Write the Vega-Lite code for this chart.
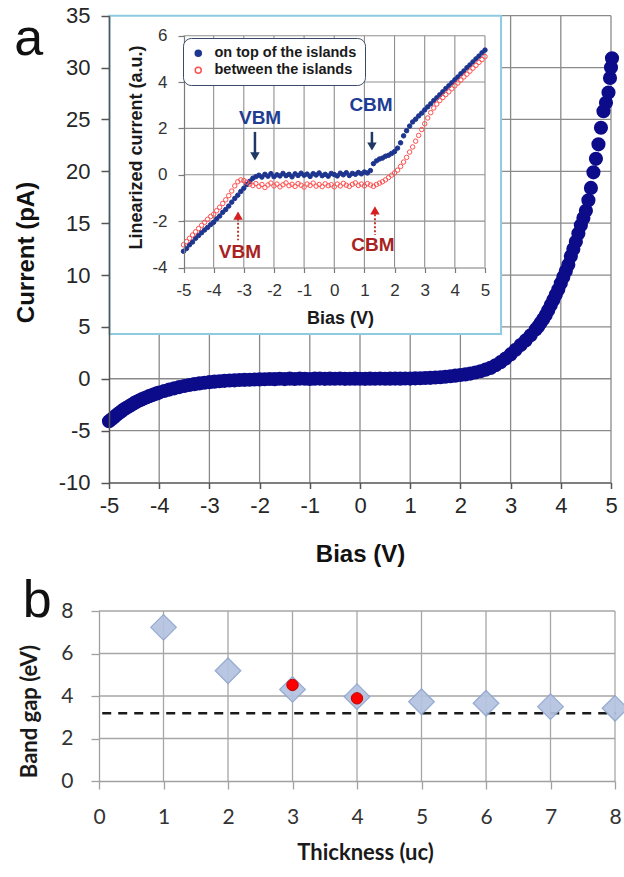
{
  "$schema": "https://vega.github.io/schema/vega-lite/v6.json",
  "width": 624,
  "height": 877,
  "autosize": {"type": "none"},
  "padding": 0,
  "background": "white",
  "config": {"view": {"stroke": null}, "font": "Liberation Sans"},
  "datasets": {
    "main": [
      {"v":-5.0,"c":-4.1},{"v":-4.95,"c":-3.9},{"v":-4.9,"c":-3.7},{"v":-4.85,"c":-3.5},{"v":-4.8,"c":-3.3},{"v":-4.75,"c":-3.12},{"v":-4.7,"c":-2.95},{"v":-4.65,"c":-2.8},{"v":-4.6,"c":-2.65},{"v":-4.55,"c":-2.5},{"v":-4.5,"c":-2.35},{"v":-4.45,"c":-2.22},{"v":-4.4,"c":-2.1},{"v":-4.35,"c":-1.99},{"v":-4.3,"c":-1.88},{"v":-4.25,"c":-1.78},{"v":-4.2,"c":-1.68},{"v":-4.15,"c":-1.59},{"v":-4.1,"c":-1.5},{"v":-4.05,"c":-1.41},{"v":-4.0,"c":-1.33},{"v":-3.9,"c":-1.18},{"v":-3.8,"c":-1.04},{"v":-3.7,"c":-0.92},{"v":-3.6,"c":-0.8},{"v":-3.5,"c":-0.7},{"v":-3.4,"c":-0.6},{"v":-3.3,"c":-0.52},{"v":-3.2,"c":-0.45},{"v":-3.1,"c":-0.38},{"v":-3.0,"c":-0.33},{"v":-2.9,"c":-0.28},{"v":-2.8,"c":-0.24},{"v":-2.7,"c":-0.2},{"v":-2.6,"c":-0.17},{"v":-2.5,"c":-0.15},{"v":-2.4,"c":-0.12},{"v":-2.3,"c":-0.1},{"v":-2.2,"c":-0.09},{"v":-2.1,"c":-0.07},{"v":-2.0,"c":-0.06},{"v":-1.9,"c":-0.05},{"v":-1.8,"c":-0.02},{"v":-1.7,"c":-0.04},{"v":-1.6,"c":0.0},{"v":-1.5,"c":-0.03},{"v":-1.4,"c":0.01},{"v":-1.3,"c":-0.02},{"v":-1.2,"c":0.02},{"v":-1.1,"c":0.0},{"v":-1.0,"c":-0.02},{"v":-0.9,"c":0.01},{"v":-0.8,"c":0.02},{"v":-0.7,"c":-0.01},{"v":-0.6,"c":0.01},{"v":-0.5,"c":0.0},{"v":-0.4,"c":0.02},{"v":-0.3,"c":-0.01},{"v":-0.2,"c":0.0},{"v":-0.1,"c":0.01},{"v":0.0,"c":0.0},{"v":0.1,"c":-0.01},{"v":0.2,"c":0.01},{"v":0.3,"c":0.0},{"v":0.4,"c":0.02},{"v":0.5,"c":0.0},{"v":0.6,"c":0.01},{"v":0.7,"c":0.02},{"v":0.8,"c":0.01},{"v":0.9,"c":0.03},{"v":1.0,"c":0.02},{"v":1.1,"c":0.04},{"v":1.2,"c":0.05},{"v":1.3,"c":0.07},{"v":1.4,"c":0.09},{"v":1.5,"c":0.12},{"v":1.6,"c":0.15},{"v":1.7,"c":0.19},{"v":1.8,"c":0.24},{"v":1.9,"c":0.3},{"v":2.0,"c":0.36},{"v":2.1,"c":0.42},{"v":2.2,"c":0.5},{"v":2.3,"c":0.6},{"v":2.4,"c":0.72},{"v":2.5,"c":0.88},{"v":2.6,"c":1.05},{"v":2.7,"c":1.3},{"v":2.8,"c":1.6},{"v":2.9,"c":1.95},{"v":3.0,"c":2.35},{"v":3.1,"c":2.8},{"v":3.2,"c":3.25},{"v":3.3,"c":3.7},{"v":3.4,"c":4.2},{"v":3.5,"c":4.75},{"v":3.55,"c":5.05},{"v":3.6,"c":5.4},{"v":3.65,"c":5.75},{"v":3.7,"c":6.15},{"v":3.75,"c":6.6},{"v":3.8,"c":7.1},{"v":3.85,"c":7.6},{"v":3.9,"c":8.1},{"v":3.95,"c":8.6},{"v":4.0,"c":9.2},{"v":4.05,"c":9.8},{"v":4.1,"c":10.4},{"v":4.15,"c":11.0},{"v":4.2,"c":11.8},{"v":4.25,"c":12.5},{"v":4.3,"c":13.2},{"v":4.35,"c":14.0},{"v":4.4,"c":14.8},{"v":4.45,"c":15.5},{"v":4.5,"c":16.2},{"v":4.55,"c":17.2},{"v":4.6,"c":18.4},{"v":4.65,"c":19.9},{"v":4.7,"c":21.2},{"v":4.75,"c":22.6},{"v":4.8,"c":24.2},{"v":4.85,"c":25.8},{"v":4.9,"c":26.6},{"v":4.95,"c":27.6},{"v":4.98,"c":29.0},{"v":5.0,"c":30.0},{"v":5.02,"c":30.9}
    ],
    "blue": [
      {"v":-5.0,"i":-3.30},{"v":-4.9,"i":-3.18},{"v":-4.8,"i":-3.02},{"v":-4.7,"i":-2.90},{"v":-4.6,"i":-2.74},{"v":-4.5,"i":-2.62},{"v":-4.4,"i":-2.50},{"v":-4.3,"i":-2.38},{"v":-4.2,"i":-2.27},{"v":-4.1,"i":-2.15},{"v":-4.0,"i":-2.05},{"v":-3.9,"i":-1.90},{"v":-3.8,"i":-1.78},{"v":-3.7,"i":-1.62},{"v":-3.6,"i":-1.50},{"v":-3.5,"i":-1.35},{"v":-3.4,"i":-1.18},{"v":-3.3,"i":-1.02},{"v":-3.2,"i":-0.88},{"v":-3.1,"i":-0.72},{"v":-3.0,"i":-0.58},{"v":-2.9,"i":-0.42},{"v":-2.8,"i":-0.28},{"v":-2.7,"i":-0.15},{"v":-2.6,"i":-0.08},{"v":-2.5,"i":-0.02},{"v":-2.4,"i":-0.10},{"v":-2.3,"i":0.02},{"v":-2.2,"i":-0.06},{"v":-2.1,"i":0.05},{"v":-2.0,"i":-0.08},{"v":-1.9,"i":0.00},{"v":-1.8,"i":-0.05},{"v":-1.7,"i":0.06},{"v":-1.6,"i":-0.04},{"v":-1.5,"i":0.02},{"v":-1.4,"i":-0.09},{"v":-1.3,"i":0.04},{"v":-1.2,"i":-0.03},{"v":-1.1,"i":0.07},{"v":-1.0,"i":-0.02},{"v":-0.9,"i":0.03},{"v":-0.8,"i":-0.07},{"v":-0.7,"i":0.05},{"v":-0.6,"i":-0.01},{"v":-0.5,"i":0.08},{"v":-0.4,"i":-0.04},{"v":-0.3,"i":0.02},{"v":-0.2,"i":-0.06},{"v":-0.1,"i":0.06},{"v":0.0,"i":0.01},{"v":0.1,"i":-0.05},{"v":0.2,"i":0.07},{"v":0.3,"i":0.00},{"v":0.4,"i":0.09},{"v":0.5,"i":-0.03},{"v":0.6,"i":0.06},{"v":0.7,"i":0.02},{"v":0.8,"i":0.10},{"v":0.9,"i":0.04},{"v":1.0,"i":0.12},{"v":1.1,"i":0.08},{"v":1.2,"i":0.18},{"v":1.3,"i":0.48},{"v":1.4,"i":0.60},{"v":1.5,"i":0.68},{"v":1.6,"i":0.72},{"v":1.7,"i":0.80},{"v":1.8,"i":0.84},{"v":1.9,"i":0.92},{"v":2.0,"i":1.00},{"v":2.1,"i":1.15},{"v":2.2,"i":1.38},{"v":2.3,"i":1.68},{"v":2.4,"i":1.90},{"v":2.5,"i":2.10},{"v":2.6,"i":2.28},{"v":2.7,"i":2.40},{"v":2.8,"i":2.54},{"v":2.9,"i":2.66},{"v":3.0,"i":2.80},{"v":3.1,"i":2.93},{"v":3.2,"i":3.06},{"v":3.3,"i":3.20},{"v":3.4,"i":3.32},{"v":3.5,"i":3.45},{"v":3.6,"i":3.58},{"v":3.7,"i":3.72},{"v":3.8,"i":3.84},{"v":3.9,"i":3.97},{"v":4.0,"i":4.10},{"v":4.1,"i":4.22},{"v":4.2,"i":4.36},{"v":4.3,"i":4.48},{"v":4.4,"i":4.62},{"v":4.5,"i":4.74},{"v":4.6,"i":4.87},{"v":4.7,"i":5.00},{"v":4.8,"i":5.12},{"v":4.9,"i":5.26},{"v":5.0,"i":5.38}
    ],
    "red": [
      {"v":-5.0,"i":-3.02},{"v":-4.9,"i":-2.88},{"v":-4.8,"i":-2.74},{"v":-4.7,"i":-2.60},{"v":-4.6,"i":-2.46},{"v":-4.5,"i":-2.32},{"v":-4.4,"i":-2.18},{"v":-4.3,"i":-2.05},{"v":-4.2,"i":-1.92},{"v":-4.1,"i":-1.80},{"v":-4.0,"i":-1.70},{"v":-3.9,"i":-1.55},{"v":-3.8,"i":-1.40},{"v":-3.7,"i":-1.24},{"v":-3.6,"i":-1.08},{"v":-3.5,"i":-0.90},{"v":-3.4,"i":-0.70},{"v":-3.3,"i":-0.48},{"v":-3.2,"i":-0.30},{"v":-3.1,"i":-0.22},{"v":-3.0,"i":-0.25},{"v":-2.9,"i":-0.32},{"v":-2.8,"i":-0.40},{"v":-2.7,"i":-0.46},{"v":-2.6,"i":-0.38},{"v":-2.5,"i":-0.50},{"v":-2.4,"i":-0.42},{"v":-2.3,"i":-0.55},{"v":-2.2,"i":-0.44},{"v":-2.1,"i":-0.36},{"v":-2.0,"i":-0.48},{"v":-1.9,"i":-0.40},{"v":-1.8,"i":-0.52},{"v":-1.7,"i":-0.43},{"v":-1.6,"i":-0.35},{"v":-1.5,"i":-0.47},{"v":-1.4,"i":-0.41},{"v":-1.3,"i":-0.50},{"v":-1.2,"i":-0.38},{"v":-1.1,"i":-0.45},{"v":-1.0,"i":-0.53},{"v":-0.9,"i":-0.40},{"v":-0.8,"i":-0.46},{"v":-0.7,"i":-0.36},{"v":-0.6,"i":-0.49},{"v":-0.5,"i":-0.42},{"v":-0.4,"i":-0.51},{"v":-0.3,"i":-0.39},{"v":-0.2,"i":-0.47},{"v":-0.1,"i":-0.43},{"v":0.0,"i":-0.52},{"v":0.1,"i":-0.40},{"v":0.2,"i":-0.48},{"v":0.3,"i":-0.37},{"v":0.4,"i":-0.45},{"v":0.5,"i":-0.50},{"v":0.6,"i":-0.41},{"v":0.7,"i":-0.35},{"v":0.8,"i":-0.46},{"v":0.9,"i":-0.40},{"v":1.0,"i":-0.48},{"v":1.1,"i":-0.38},{"v":1.2,"i":-0.44},{"v":1.3,"i":-0.50},{"v":1.4,"i":-0.42},{"v":1.5,"i":-0.36},{"v":1.6,"i":-0.30},{"v":1.7,"i":-0.22},{"v":1.8,"i":-0.12},{"v":1.9,"i":-0.02},{"v":2.0,"i":0.08},{"v":2.1,"i":0.20},{"v":2.2,"i":0.36},{"v":2.3,"i":0.55},{"v":2.4,"i":0.75},{"v":2.5,"i":0.98},{"v":2.6,"i":1.20},{"v":2.7,"i":1.45},{"v":2.8,"i":1.70},{"v":2.9,"i":1.95},{"v":3.0,"i":2.20},{"v":3.1,"i":2.45},{"v":3.2,"i":2.68},{"v":3.3,"i":2.88},{"v":3.4,"i":3.05},{"v":3.5,"i":3.20},{"v":3.6,"i":3.33},{"v":3.7,"i":3.46},{"v":3.8,"i":3.58},{"v":3.9,"i":3.71},{"v":4.0,"i":3.84},{"v":4.1,"i":3.96},{"v":4.2,"i":4.09},{"v":4.3,"i":4.22},{"v":4.4,"i":4.34},{"v":4.5,"i":4.47},{"v":4.6,"i":4.60},{"v":4.7,"i":4.72},{"v":4.8,"i":4.85},{"v":4.9,"i":4.97},{"v":5.0,"i":5.10}
    ]
  },
  "layer": [
    {
      "data": {"values": [{"g":-4},{"g":-3},{"g":-2},{"g":-1},{"g":0},{"g":1},{"g":2},{"g":3},{"g":4},{"g":5}]},
      "mark": {"type": "rule", "color": "#8a8a8a", "strokeWidth": 1.3},
      "encoding": {
        "x": {"field": "g", "type": "quantitative", "scale": {"domain": [-5, 5], "range": [109, 611], "nice": false, "zero": false}, "axis": null},
        "y": {"datum": -10, "type": "quantitative", "scale": {"domain": [-10, 35], "range": [482.5, 15.7], "nice": false, "zero": false}, "axis": null},
        "y2": {"datum": 35}
      }
    },
    {
      "data": {"values": [{"g":-5},{"g":0},{"g":5},{"g":10},{"g":15},{"g":20},{"g":25},{"g":30},{"g":35}]},
      "mark": {"type": "rule", "color": "#8a8a8a", "strokeWidth": 1.3},
      "encoding": {
        "y": {"field": "g", "type": "quantitative", "scale": {"domain": [-10, 35], "range": [482.5, 15.7], "nice": false, "zero": false}, "axis": null},
        "x": {"datum": -5, "type": "quantitative", "scale": {"domain": [-5, 5], "range": [109, 611], "nice": false, "zero": false}, "axis": null},
        "x2": {"datum": 5}
      }
    },
    {
      "data": {"name": "main"},
      "mark": {"type": "circle", "color": "#0c0c8a", "size": 200, "opacity": 1},
      "encoding": {
        "x": {"field": "v", "type": "quantitative", "scale": {"domain": [-5, 5], "range": [109, 611], "nice": false, "zero": false},
          "axis": {"orient": "bottom", "offset": -394.5, "values": [-5,-4,-3,-2,-1,0,1,2,3,4,5], "grid": false, "zindex": 1,
            "labelExpr": "datum.value < 0 ? '-' + (-datum.value) : '' + datum.value",
            "domainColor": "#555555", "domainWidth": 1.5, "tickColor": "#555555", "tickWidth": 1.5, "tickSize": 6,
            "labelFont": "Liberation Sans", "labelFontSize": 22, "labelColor": "#262626", "labelPadding": 7, "labelFlush": false, "labelOverlap": false,
            "title": "Bias (V)", "titleFont": "Liberation Sans", "titleFontSize": 24, "titleFontWeight": "bold", "titleColor": "#111111",
            "titleX": 360, "titleY": 72, "titleBaseline": "middle", "titleAlign": "center", "titleAngle": 0}},
        "y": {"field": "c", "type": "quantitative", "scale": {"domain": [-10, 35], "range": [482.5, 15.7], "nice": false, "zero": false},
          "axis": {"orient": "left", "offset": -109, "values": [-10,-5,0,5,10,15,20,25,30,35], "grid": false, "zindex": 1,
            "labelExpr": "datum.value < 0 ? '-' + (-datum.value) : '' + datum.value",
            "domainColor": "#555555", "domainWidth": 1.5, "tickColor": "#555555", "tickWidth": 1.5, "tickSize": 8,
            "labelFont": "Liberation Sans", "labelFontSize": 22, "labelColor": "#262626", "labelPadding": 11, "labelFlush": false, "labelOverlap": false,
            "title": "Current (pA)", "titleFont": "Liberation Sans", "titleFontSize": 24, "titleFontWeight": "bold", "titleColor": "#111111",
            "titleX": -82.5, "titleY": 252, "titleBaseline": "middle", "titleAlign": "center", "titleAngle": -90}}
      }
    },
    {
      "data": {"values": [{}]},
      "mark": {"type": "rect", "fill": "white", "stroke": "#8ecae0", "strokeWidth": 2},
      "encoding": {
        "x": {"datum": -4.99, "type": "quantitative", "scale": {"domain": [-5, 5], "range": [109, 611], "nice": false, "zero": false}, "axis": null},
        "x2": {"datum": 2.81},
        "y": {"datum": 4.31, "type": "quantitative", "scale": {"domain": [-10, 35], "range": [482.5, 15.7], "nice": false, "zero": false}, "axis": null},
        "y2": {"datum": 35}
      }
    },
    {
      "data": {"values": [{"t": "a"}]},
      "mark": {"type": "text", "font": "Liberation Sans", "fontSize": 52, "align": "center", "baseline": "alphabetic", "color": "#111111"},
      "encoding": {
        "text": {"field": "t"},
        "x": {"datum": -6.6, "type": "quantitative", "scale": {"domain": [-5, 5], "range": [109, 611], "nice": false, "zero": false}, "axis": null},
        "y": {"datum": 31.2, "type": "quantitative", "scale": {"domain": [-10, 35], "range": [482.5, 15.7], "nice": false, "zero": false}, "axis": null}
      }
    },
    {
      "data": {"values": [{"g":-4},{"g":-3},{"g":-2},{"g":-1},{"g":0},{"g":1},{"g":2},{"g":3},{"g":4},{"g":5}]},
      "mark": {"type": "rule", "color": "#8f8f8f", "strokeWidth": 1.1},
      "encoding": {
        "x": {"field": "g", "type": "quantitative", "scale": {"domain": [-5, 5], "range": [183.5, 485], "nice": false, "zero": false}, "axis": null},
        "y": {"datum": -4, "type": "quantitative", "scale": {"domain": [-4, 6], "range": [267.5, 35.7], "nice": false, "zero": false}, "axis": null},
        "y2": {"datum": 6}
      }
    },
    {
      "data": {"values": [{"g":-2},{"g":0},{"g":2},{"g":4},{"g":6}]},
      "mark": {"type": "rule", "color": "#8f8f8f", "strokeWidth": 1.1},
      "encoding": {
        "y": {"field": "g", "type": "quantitative", "scale": {"domain": [-4, 6], "range": [267.5, 35.7], "nice": false, "zero": false}, "axis": null},
        "x": {"datum": -5, "type": "quantitative", "scale": {"domain": [-5, 5], "range": [183.5, 485], "nice": false, "zero": false}, "axis": null},
        "x2": {"datum": 5}
      }
    },
    {
      "data": {"name": "blue"},
      "mark": {"type": "point", "shape": "circle", "filled": true, "size": 20, "strokeWidth": 1, "opacity": 1},
      "encoding": {
        "x": {"field": "v", "type": "quantitative", "scale": {"domain": [-5, 5], "range": [183.5, 485], "nice": false, "zero": false},
          "axis": {"orient": "bottom", "offset": -609.5, "values": [-5,-4,-3,-2,-1,0,1,2,3,4,5], "grid": false, "zindex": 1,
            "labelExpr": "datum.value < 0 ? '-' + (-datum.value) : '' + datum.value",
            "domainColor": "#7a7a7a", "domainWidth": 1.2, "tickColor": "#7a7a7a", "tickWidth": 1.2, "tickSize": 5,
            "labelFont": "Liberation Sans", "labelFontSize": 17, "labelColor": "#333333", "labelPadding": 10, "labelFlush": false, "labelOverlap": false,
            "title": "Bias (V)", "titleFont": "Liberation Sans", "titleFontSize": 18, "titleFontWeight": "bold", "titleColor": "#1a1a1a",
            "titleX": 340, "titleY": 50.5, "titleBaseline": "middle", "titleAlign": "center", "titleAngle": 0}},
        "y": {"field": "i", "type": "quantitative", "scale": {"domain": [-4, 6], "range": [267.5, 35.7], "nice": false, "zero": false},
          "axis": {"orient": "left", "offset": -184, "values": [-4,-2,0,2,4,6], "grid": false, "zindex": 1,
            "labelExpr": "datum.value < 0 ? '-' + (-datum.value) : '' + datum.value",
            "domainColor": "#7a7a7a", "domainWidth": 1.2, "tickColor": "#7a7a7a", "tickWidth": 1.2, "tickSize": 6,
            "labelFont": "Liberation Sans", "labelFontSize": 17, "labelColor": "#333333", "labelPadding": 11, "labelFlush": false, "labelOverlap": false,
            "title": "Linearized current (a.u.)", "titleFont": "Liberation Sans", "titleFontSize": 18, "titleFontWeight": "bold", "titleColor": "#1a1a1a",
            "titleX": -48, "titleY": 147, "titleBaseline": "middle", "titleAlign": "center", "titleAngle": -90}},
        "fill": {"datum": "on top of the islands", "type": "nominal",
          "scale": {"domain": ["on top of the islands", "between the islands"], "range": ["#1e3590", "transparent"]},
          "legend": {"orient": "none", "legendX": 183, "legendY": 38, "title": null, "zindex": 1, "fillColor": "white", "strokeColor": "#3b4a6b", "cornerRadius": 8, "padding": 8,
            "labelFont": "Liberation Sans", "labelFontSize": 14.5, "labelFontWeight": "bold", "labelColor": "#1a1a1a", "labelOffset": 9, "symbolSize": 36, "symbolStrokeWidth": 1.5, "rowPadding": 2, "symbolType": "circle"}},
        "stroke": {"datum": "on top of the islands", "type": "nominal",
          "scale": {"domain": ["on top of the islands", "between the islands"], "range": ["#1e3590", "#ff5050"]},
          "legend": {"orient": "none", "legendX": 183, "legendY": 38, "title": null, "zindex": 1, "fillColor": "white", "strokeColor": "#3b4a6b", "cornerRadius": 8, "padding": 8,
            "labelFont": "Liberation Sans", "labelFontSize": 14.5, "labelFontWeight": "bold", "labelColor": "#1a1a1a", "labelOffset": 9, "symbolSize": 36, "symbolStrokeWidth": 1.5, "rowPadding": 2, "symbolType": "circle"}}
      }
    },
    {
      "data": {"name": "red"},
      "mark": {"type": "point", "shape": "circle", "filled": true, "size": 20, "strokeWidth": 1, "opacity": 1},
      "encoding": {
        "x": {"field": "v", "type": "quantitative", "scale": {"domain": [-5, 5], "range": [183.5, 485], "nice": false, "zero": false}, "axis": null},
        "y": {"field": "i", "type": "quantitative", "scale": {"domain": [-4, 6], "range": [267.5, 35.7], "nice": false, "zero": false}, "axis": null},
        "fill": {"datum": "between the islands", "type": "nominal"},
        "stroke": {"datum": "between the islands", "type": "nominal"}
      }
    },
    {
      "data": {"values": [{"v": -2.63, "a": 1.85, "b": 0.9}, {"v": 1.25, "a": 1.85, "b": 1.3}]},
      "mark": {"type": "rule", "color": "#1f3864", "strokeWidth": 2.5},
      "encoding": {
        "x": {"field": "v", "type": "quantitative", "scale": {"domain": [-5, 5], "range": [183.5, 485], "nice": false, "zero": false}, "axis": null},
        "y": {"field": "a", "type": "quantitative", "scale": {"domain": [-4, 6], "range": [267.5, 35.7], "nice": false, "zero": false}, "axis": null},
        "y2": {"field": "b"}
      }
    },
    {
      "data": {"values": [{"v": -2.63, "h": 0.79}, {"v": 1.25, "h": 1.22}]},
      "mark": {"type": "point", "shape": "triangle-down", "filled": true, "size": 90, "color": "#1f3864", "opacity": 1},
      "encoding": {
        "x": {"field": "v", "type": "quantitative", "scale": {"domain": [-5, 5], "range": [183.5, 485], "nice": false, "zero": false}, "axis": null},
        "y": {"field": "h", "type": "quantitative", "scale": {"domain": [-4, 6], "range": [267.5, 35.7], "nice": false, "zero": false}, "axis": null}
      }
    },
    {
      "data": {"values": [{"v": -3.19, "a": -1.9, "b": -2.82}, {"v": 1.35, "a": -1.7, "b": -2.6}]},
      "mark": {"type": "rule", "color": "#c0392b", "strokeWidth": 2, "strokeDash": [2, 2]},
      "encoding": {
        "x": {"field": "v", "type": "quantitative", "scale": {"domain": [-5, 5], "range": [183.5, 485], "nice": false, "zero": false}, "axis": null},
        "y": {"field": "a", "type": "quantitative", "scale": {"domain": [-4, 6], "range": [267.5, 35.7], "nice": false, "zero": false}, "axis": null},
        "y2": {"field": "b"}
      }
    },
    {
      "data": {"values": [{"v": -3.19, "h": -1.76}, {"v": 1.35, "h": -1.54}]},
      "mark": {"type": "point", "shape": "triangle-up", "filled": true, "size": 90, "color": "#d42020", "opacity": 1},
      "encoding": {
        "x": {"field": "v", "type": "quantitative", "scale": {"domain": [-5, 5], "range": [183.5, 485], "nice": false, "zero": false}, "axis": null},
        "y": {"field": "h", "type": "quantitative", "scale": {"domain": [-4, 6], "range": [267.5, 35.7], "nice": false, "zero": false}, "axis": null}
      }
    },
    {
      "data": {"values": [{"v": -2.46, "i": 2.45, "t": "VBM"}, {"v": 1.22, "i": 3.01, "t": "CBM"}]},
      "mark": {"type": "text", "font": "Liberation Sans", "fontSize": 19, "fontWeight": "bold", "color": "#213d93", "align": "center", "baseline": "middle"},
      "encoding": {
        "x": {"field": "v", "type": "quantitative", "scale": {"domain": [-5, 5], "range": [183.5, 485], "nice": false, "zero": false}, "axis": null},
        "y": {"field": "i", "type": "quantitative", "scale": {"domain": [-4, 6], "range": [267.5, 35.7], "nice": false, "zero": false}, "axis": null},
        "text": {"field": "t"}
      }
    },
    {
      "data": {"values": [{"v": -3.13, "i": -3.34, "t": "VBM"}, {"v": 1.28, "i": -3.03, "t": "CBM"}]},
      "mark": {"type": "text", "font": "Liberation Sans", "fontSize": 19, "fontWeight": "bold", "color": "#a82222", "align": "center", "baseline": "middle"},
      "encoding": {
        "x": {"field": "v", "type": "quantitative", "scale": {"domain": [-5, 5], "range": [183.5, 485], "nice": false, "zero": false}, "axis": null},
        "y": {"field": "i", "type": "quantitative", "scale": {"domain": [-4, 6], "range": [267.5, 35.7], "nice": false, "zero": false}, "axis": null},
        "text": {"field": "t"}
      }
    },
    {
      "data": {"values": [{"g":1},{"g":2},{"g":3},{"g":4},{"g":5},{"g":6},{"g":7},{"g":8}]},
      "mark": {"type": "rule", "color": "#a6a6a6", "strokeWidth": 1.3},
      "encoding": {
        "x": {"field": "g", "type": "quantitative", "scale": {"domain": [0, 8], "range": [99, 615], "nice": false, "zero": false}, "axis": null},
        "y": {"datum": 0, "type": "quantitative", "scale": {"domain": [0, 8], "range": [781, 611], "nice": false, "zero": false}, "axis": null},
        "y2": {"datum": 8}
      }
    },
    {
      "data": {"values": [{"g":2},{"g":4},{"g":6},{"g":8}]},
      "mark": {"type": "rule", "color": "#a6a6a6", "strokeWidth": 1.3},
      "encoding": {
        "y": {"field": "g", "type": "quantitative", "scale": {"domain": [0, 8], "range": [781, 611], "nice": false, "zero": false}, "axis": null},
        "x": {"datum": 0, "type": "quantitative", "scale": {"domain": [0, 8], "range": [99, 615], "nice": false, "zero": false}, "axis": null},
        "x2": {"datum": 8}
      }
    },
    {
      "data": {"values": [{"f": 0.05, "t": 8.02, "g": 3.19}]},
      "mark": {"type": "rule", "color": "#1a1a1a", "strokeWidth": 2.5, "strokeDash": [9, 7]},
      "encoding": {
        "x": {"field": "f", "type": "quantitative", "scale": {"domain": [0, 8], "range": [99, 615], "nice": false, "zero": false}, "axis": null},
        "x2": {"field": "t"},
        "y": {"field": "g", "type": "quantitative", "scale": {"domain": [0, 8], "range": [781, 611], "nice": false, "zero": false}, "axis": null}
      }
    },
    {
      "data": {"values": [{"n":1,"e":7.23},{"n":2,"e":5.19},{"n":3,"e":4.31},{"n":4,"e":3.97},{"n":5,"e":3.73},{"n":6,"e":3.66},{"n":7,"e":3.5},{"n":8,"e":3.42}]},
      "mark": {"type": "point", "shape": "diamond", "filled": true, "size": 650, "fill": "#b4c3e0", "stroke": "#8fa5ce", "strokeWidth": 1.3, "opacity": 0.92},
      "encoding": {
        "x": {"field": "n", "type": "quantitative", "scale": {"domain": [0, 8], "range": [99, 615], "nice": false, "zero": false},
          "axis": {"orient": "bottom", "offset": -96, "values": [0,1,2,3,4,5,6,7,8], "grid": false, "zindex": 1,
            "domainColor": "#a0a0a0", "domainWidth": 1.3, "tickColor": "#a0a0a0", "tickWidth": 1.3, "tickSize": 8,
            "labelFont": "Lato", "labelFontSize": 21, "labelColor": "#333333", "labelPadding": 17, "labelFlush": false, "labelOverlap": false,
            "title": "Thickness (uc)", "titleFont": "Lato", "titleFontSize": 22, "titleFontWeight": "bold", "titleColor": "#1a1a1a",
            "titleX": 365, "titleY": 71, "titleBaseline": "middle", "titleAlign": "center", "titleAngle": 0}},
        "y": {"field": "e", "type": "quantitative", "scale": {"domain": [0, 8], "range": [781, 611], "nice": false, "zero": false},
          "axis": {"orient": "left", "offset": -99, "values": [0,2,4,6,8], "grid": false, "zindex": 1,
            "domainColor": "#a0a0a0", "domainWidth": 1.3, "tickColor": "#a0a0a0", "tickWidth": 1.3, "tickSize": 8,
            "labelFont": "Lato", "labelFontSize": 21, "labelColor": "#333333", "labelPadding": 18, "labelFlush": false, "labelOverlap": false,
            "title": "Band gap (eV)", "titleFont": "Lato", "titleFontSize": 22, "titleFontWeight": "bold", "titleColor": "#1a1a1a",
            "titleX": -70, "titleY": 711, "titleBaseline": "middle", "titleAlign": "center", "titleAngle": -90}}
      }
    },
    {
      "data": {"values": [{"n":3,"e":4.52},{"n":4,"e":3.89}]},
      "mark": {"type": "point", "shape": "circle", "filled": true, "size": 130, "fill": "#ff0000", "stroke": "#c00000", "strokeWidth": 1, "opacity": 1},
      "encoding": {
        "x": {"field": "n", "type": "quantitative", "scale": {"domain": [0, 8], "range": [99, 615], "nice": false, "zero": false}, "axis": null},
        "y": {"field": "e", "type": "quantitative", "scale": {"domain": [0, 8], "range": [781, 611], "nice": false, "zero": false}, "axis": null}
      }
    },
    {
      "data": {"values": [{"t": "b"}]},
      "mark": {"type": "text", "font": "Liberation Sans", "fontSize": 52, "align": "center", "baseline": "alphabetic", "color": "#111111"},
      "encoding": {
        "text": {"field": "t"},
        "x": {"datum": -0.96, "type": "quantitative", "scale": {"domain": [0, 8], "range": [99, 615], "nice": false, "zero": false}, "axis": null},
        "y": {"datum": 7.7, "type": "quantitative", "scale": {"domain": [0, 8], "range": [781, 611], "nice": false, "zero": false}, "axis": null}
      }
    }
  ],
  "resolve": {"scale": {"x": "independent", "y": "independent"}, "axis": {"x": "independent", "y": "independent"}}
}
